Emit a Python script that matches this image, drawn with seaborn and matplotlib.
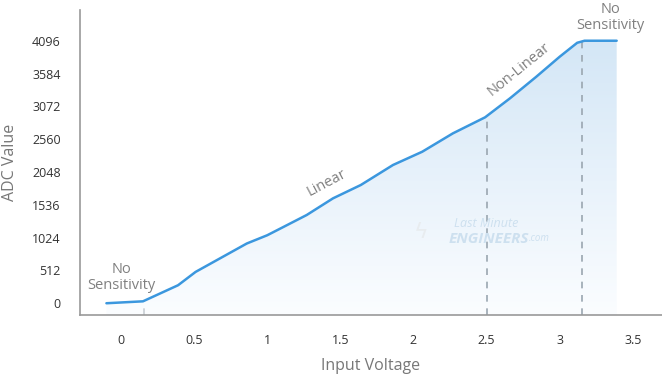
import numpy as np
import pandas as pd
import matplotlib
matplotlib.use('Agg')
import matplotlib.pyplot as plt
import seaborn as sns

# values
voltage = [-0.10, 0.15, 0.39, 0.51, 0.86, 1.00, 1.09, 1.27, 1.45, 1.64, 1.86, 2.06,
           2.27, 2.49, 2.66, 2.84, 3.00, 3.12, 3.17, 3.39]
adc = [0, 30, 281, 489, 932, 1061, 1166, 1377, 1637, 1845, 2157, 2364,
       2651, 2901, 3197, 3534, 3846, 4064, 4096, 4096]
yticks = [0, 512, 1024, 1536, 2048, 2560, 3072, 3584, 4096]
xticks = [0, 0.5, 1, 1.5, 2, 2.5, 3, 3.5]
xtick_labels = ['0', '0.5', '1', '1.5', '2', '2.5', '3', '3.5']
markers = [0.16, 2.5, 3.15]

df = pd.DataFrame({'Input Voltage': voltage, 'ADC Value': adc})

sns.set_style('white')
plt.rcParams['font.family'] = ['Open Sans', 'DejaVu Sans']

fig = plt.figure(figsize=(6.62, 3.74), dpi=100)
ax = fig.add_axes([0.121, 0.158, 0.879, 0.815])

ymin, ymax = -182, 4574
xmin, xmax = -0.28, 3.70

# gradient fill under the curve
grad = np.linspace(0, 1, 256).reshape(-1, 1)
cmap = matplotlib.colors.LinearSegmentedColormap.from_list('fill', ['#fbfdff', '#d3e6f6'])
im = ax.imshow(grad, extent=[xmin, xmax, ymin, 4200], origin='lower', aspect='auto',
               cmap=cmap, zorder=0)
poly = ax.fill_between(df['Input Voltage'], ymin, df['ADC Value'], color='none', lw=0)
im.set_clip_path(poly.get_paths()[0], transform=ax.transData)

sns.lineplot(data=df, x='Input Voltage', y='ADC Value', color='#3b97de', lw=1.8, ax=ax, zorder=3)

# dashed markers
for xv in markers:
    yv = np.interp(xv, voltage, adc)
    c = '#c8ced3' if xv < 1 else '#9aa6b0'
    ax.plot([xv, xv], [ymin, yv], ls=(0, (4, 4)), color=c, lw=1.2, zorder=2)

ax.set_xlim(xmin, xmax)
ax.set_ylim(ymin, ymax)
ax.set_xticks(xticks)
ax.set_xticklabels(xtick_labels)
ax.set_xticks([0.16, 3.15], minor=True)
ax.set_yticks(yticks)
ax.tick_params(axis='both', which='both', direction='in', length=4, color='#aaaaaa',
               labelsize=9, labelcolor='#333333')
ax.tick_params(axis='x', pad=14)
ax.tick_params(axis='y', pad=14)

for s in ['top', 'right']:
    ax.spines[s].set_visible(False)
for s in ['left', 'bottom']:
    ax.spines[s].set_color('#999999')
    ax.spines[s].set_linewidth(1.2)

ax.set_xlabel('Input Voltage', fontsize=11.5, color='#777777', labelpad=8)
ax.set_ylabel('ADC Value', fontsize=11.5, color='#777777', labelpad=10)

txt = dict(color='#808080', fontsize=10.5, ha='center', va='center')
ax.text(0.0, 400, 'No\nSensitivity', linespacing=1.05, **txt)
ax.text(1.41, 1880, 'Linear', rotation=28, **txt)
ax.text(2.72, 3650, 'Non-Linear', rotation=39, **txt)
ax.text(3.345, 4460, 'No\nSensitivity', linespacing=1.05, **txt)

# faint watermark
wm = '#cde0ef'
ax.text(2.28, 1250, 'Last Minute', fontsize=9, style='italic', color=wm, ha='left', va='center')
t = ax.text(2.24, 1000, 'ENGINEERS', fontsize=11, style='italic', weight='bold', color=wm,
            ha='left', va='center')
ax.annotate('.com', xy=(1, 0.15), xycoords=t, fontsize=7, style='italic', color=wm,
            ha='left', va='bottom')
ax.text(2.05, 1100, '\u03df', fontsize=16, color='#e8ecef', ha='center', va='center')

fig.savefig('out.png', dpi=100)
